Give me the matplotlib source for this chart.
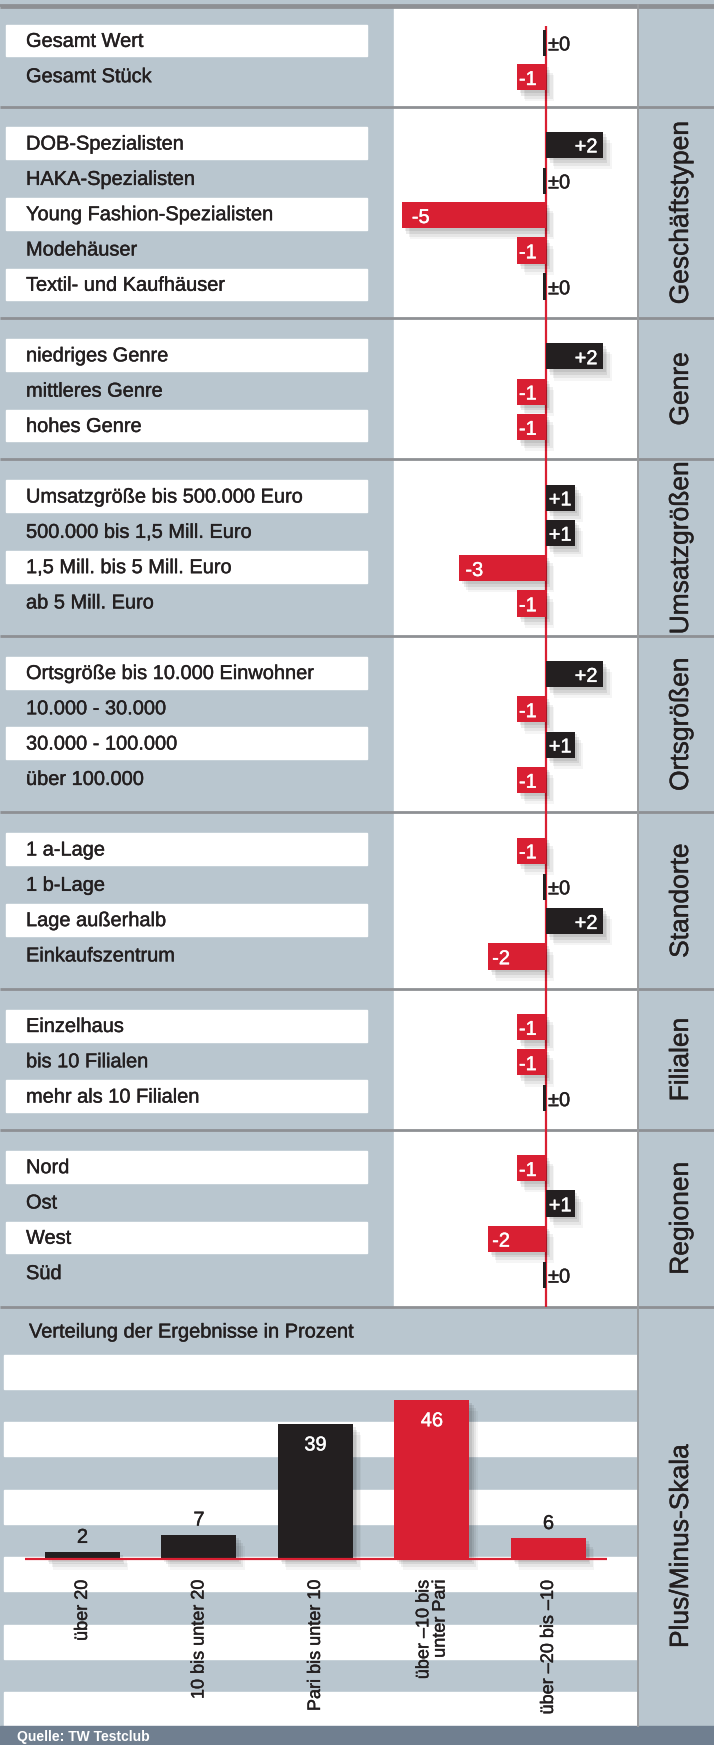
import matplotlib.pyplot as plt
import matplotlib.patheffects as pe
from matplotlib.patches import Rectangle

plt.rcParams['font.family'] = ['Liberation Sans', 'DejaVu Sans']

# ---- data ----
groups = ['', 'Geschäftstypen', 'Genre', 'Umsatzgrößen', 'Ortsgrößen',
          'Standorte', 'Filialen', 'Regionen']
labels = [
    ['Gesamt Wert', 'Gesamt Stück'],
    ['DOB-Spezialisten', 'HAKA-Spezialisten', 'Young Fashion-Spezialisten',
     'Modehäuser', 'Textil- und Kaufhäuser'],
    ['niedriges Genre', 'mittleres Genre', 'hohes Genre'],
    ['Umsatzgröße bis 500.000 Euro', '500.000 bis 1,5 Mill. Euro',
     '1,5 Mill. bis 5 Mill. Euro', 'ab 5 Mill. Euro'],
    ['Ortsgröße bis 10.000 Einwohner', '10.000 - 30.000', '30.000 - 100.000',
     'über 100.000'],
    ['1 a-Lage', '1 b-Lage', 'Lage außerhalb', 'Einkaufszentrum'],
    ['Einzelhaus', 'bis 10 Filialen', 'mehr als 10 Filialen'],
    ['Nord', 'Ost', 'West', 'Süd'],
]
values = [
    [0, -1],
    [2, 0, -5, -1, 0],
    [2, -1, -1],
    [1, 1, -3, -1],
    [2, -1, 1, -1],
    [-1, 0, 2, -2],
    [-1, -1, 0],
    [-1, 1, -2, 0],
]
dist_title = 'Verteilung der Ergebnisse in Prozent'
dist_cats = ['über 20', '10 bis unter 20', 'Pari bis unter 10',
             'über –10 bis\nunter Pari', 'über –20 bis –10']
dist_vals = [2, 7, 39, 46, 6]
source = 'Quelle: TW Testclub'

# ---- styling ----
W, H = 714, 1745
GRAY = '#b9c6cf'
LINE = '#8e9094'
RED = '#d91f32'
BLACK = '#231f20'
SRC = '#707f90'
FS = 14.4

shadow = [pe.SimplePatchShadow(offset=(2, -2), shadow_rgbFace='k', alpha=0.08),
          pe.SimplePatchShadow(offset=(3, -4), shadow_rgbFace='k', alpha=0.08),
          pe.SimplePatchShadow(offset=(5, -6), shadow_rgbFace='k', alpha=0.06),
          pe.SimplePatchShadow(offset=(6, -8), shadow_rgbFace='k', alpha=0.04),
          pe.Normal()]
dark_txt = [pe.withStroke(linewidth=0.3, foreground=BLACK)]
white_txt = [pe.withStroke(linewidth=0.3, foreground='white')]

# row layout (in row units)
pads = [0.82] + [1.0] * 7
rows, starts = [], []
pos = 0.0
for g, labs in enumerate(labels):
    starts.append(pos)
    rows.append([pos + pads[g] / 2 + 0.5 + k for k in range(len(labs))])
    pos += len(labs) + pads[g]
total = pos
top_px, bot_px = 7, 1306.6
unit = (bot_px - top_px) / total


def to_px(r):
    return top_px + r * unit


def add_ax(x0, y0, x1, y1, **kw):
    a = fig.add_axes([x0 / W, 1 - y1 / H, (x1 - x0) / W, (y1 - y0) / H], **kw)
    a.set_axis_off()
    a.patch.set_alpha(0)
    return a


fig = plt.figure(figsize=(W / 100, H / 100), dpi=100)

# background / panels
bg = add_ax(0, 0, W, H)
bg.set_xlim(0, W)
bg.set_ylim(H, 0)
bg.add_patch(Rectangle((0, 0), W, H, color=GRAY, zorder=0))
bg.add_patch(Rectangle((394, top_px), 243, bot_px - top_px, color='white', zorder=1))
stripe_top, stripe_bot, nstripes = 1355, 1726, 11
sh = (stripe_bot - stripe_top) / nstripes
for i in range(0, nstripes, 2):
    bg.add_patch(Rectangle((4, stripe_top + i * sh), 633, sh, color='white', zorder=1))
bg.add_patch(Rectangle((0, 1726), W, H - 1726, color=SRC, zorder=1))
for s in starts + [total]:
    bg.plot([0, W], [to_px(s), to_px(s)], color=LINE, lw=2, zorder=3,
            solid_capstyle='butt')
bg.plot([0, W], [5, 5], color=LINE, lw=2, zorder=3)
bg.plot([638, 638], [5, 1726], color='#9a9c9f', lw=1.4, zorder=3)
bg.text(29, 1332, dist_title, fontsize=FS, color=BLACK, va='center', zorder=4,
        path_effects=dark_txt)
bg.text(681, 1546, 'Plus/Minus-Skala', fontsize=19, color=BLACK, rotation=90,
        ha='center', va='center', zorder=4, path_effects=dark_txt)
bg.text(17, 1737, source, fontsize=10, color='white', fontweight='bold',
        va='center', zorder=4)

# left label column
lax = add_ax(0, top_px, 394, bot_px)
lax.set_xlim(0, 394)
lax.set_ylim(total, 0)
for g, labs in enumerate(labels):
    for k, lab in enumerate(labs):
        y = rows[g][k]
        if k % 2 == 0:
            lax.add_patch(Rectangle((6, y + 0.04 - 0.45), 361, 0.9,
                                    color='white', zorder=1))
        lax.text(26, y + 0.22, lab, fontsize=FS, color=BLACK, va='baseline',
                 zorder=2, path_effects=dark_txt)

# diverging bar chart
ax = add_ax(394, top_px, 637, bot_px)
ax.set_xlim(-5.27, 3.17)
ax.set_ylim(total, 0)
ax.vlines(0, 19 / unit, total, color=RED, lw=1.6, zorder=2)
for g, vals in enumerate(values):
    for k, v in enumerate(vals):
        y = rows[g][k]
        if v == 0:
            yz = y + 0.1
            ax.barh(yz, -0.1, height=0.74, color=BLACK, zorder=3)
            ax.text(0.08, yz + 0.22, '±0', fontsize=FS, color=BLACK,
                    va='baseline', ha='left', zorder=4, path_effects=dark_txt)
        else:
            yb = y + 0.08
            col = BLACK if v > 0 else RED
            b = ax.barh(yb, v, height=0.74, color=col, zorder=3)
            for p in b.patches:
                p.set_path_effects(shadow)
            if v > 0:
                ax.text(v - 0.1 * v, yb + 0.22, f'+{v}', fontsize=FS, color='white',
                        va='baseline', ha='right', zorder=4, path_effects=white_txt)
            else:
                ax.text(v - 0.07 * v, yb + 0.22, f'{v}', fontsize=FS, color='white',
                        va='baseline', ha='left', zorder=4, path_effects=white_txt)

# group labels on the right
rax = add_ax(639, top_px, W, bot_px)
rax.set_xlim(0, 1)
rax.set_ylim(total, 0)
for g, name in enumerate(groups):
    if name:
        yc = starts[g] + (len(labels[g]) + pads[g]) / 2
        rax.text(0.56, yc, name, fontsize=19, color=BLACK, rotation=90,
                 ha='center', va='center', path_effects=dark_txt)

# distribution histogram
hax = add_ax(0, stripe_top, 637, stripe_bot)
hax.set_xlim(-0.708, 4.76)
hax.set_ylim(-48.3, 58.96)
xs = list(range(len(dist_vals)))
cols = [BLACK, BLACK, BLACK, RED, RED]
bars = hax.bar(xs, dist_vals, width=0.644, color=cols, zorder=3)
for p in bars.patches:
    p.set_path_effects(shadow)
hax.hlines(0, -0.494, 4.50, color=RED, lw=1.6, zorder=4)
for x, v, c in zip(xs, dist_vals, dist_cats):
    if v > 20:
        hax.text(x, v - 3.3, str(v), fontsize=FS, color='white',
                 ha='center', va='top', zorder=5, path_effects=white_txt)
    else:
        hax.text(x, v + 1.5, str(v), fontsize=FS, color=BLACK,
                 ha='center', va='bottom', zorder=5, path_effects=dark_txt)
    hax.text(x, -6, c, fontsize=13, color=BLACK, rotation=90, ha='center',
             va='top', multialignment='right', linespacing=0.95, zorder=5,
             path_effects=dark_txt)

fig.savefig('out.png', dpi=100)
